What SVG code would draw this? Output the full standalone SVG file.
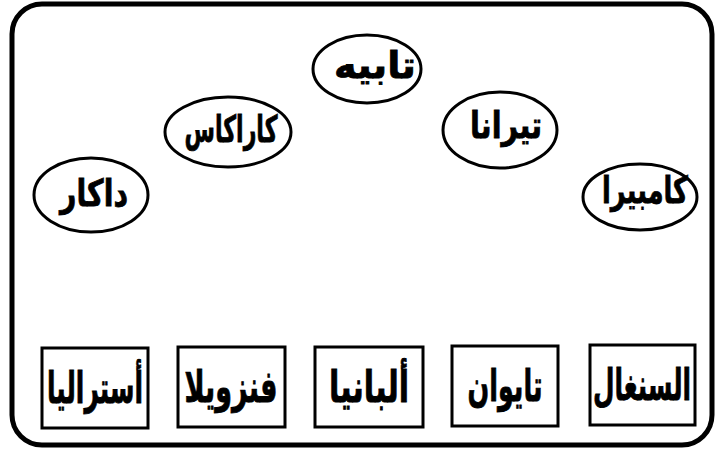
<svg xmlns="http://www.w3.org/2000/svg" width="716" height="450" viewBox="0 0 716 450">
<style>
.frame{fill:none;stroke:#000;stroke-width:5}
.ell{fill:#fff;stroke:#000;stroke-width:3}
.box{fill:#fff;stroke:#000;stroke-width:3}
.t{font-family:"DejaVu Sans",sans-serif;font-weight:bold;fill:#000;stroke:#000;stroke-width:0.6;text-anchor:middle}
.e{font-size:27px}
.b{font-size:30px}
</style>
<rect class="frame" x="12" y="4" width="700" height="441" rx="30" ry="30"/>
<g id="connectors"></g>
<g id="n-taibeh"><ellipse class="ell" cx="367" cy="69" rx="54" ry="34"/><text class="t e" transform="translate(375,78) scale(1,1.37)" textLength="82" lengthAdjust="spacingAndGlyphs">تابيه</text></g>
<g id="n-caracas"><ellipse class="ell" cx="228" cy="132" rx="63" ry="35"/><text class="t e" transform="translate(231,142) scale(1,1.37)" textLength="93" lengthAdjust="spacingAndGlyphs">كاراكاس</text></g>
<g id="n-dakar"><ellipse class="ell" cx="91" cy="195" rx="57" ry="37"/><text class="t e" transform="translate(94,206) scale(1,1.37)" textLength="68" lengthAdjust="spacingAndGlyphs">داكار</text></g>
<g id="n-tirana"><ellipse class="ell" cx="500" cy="130" rx="57" ry="38"/><text class="t e" transform="translate(506,138) scale(1,1.37)" textLength="72" lengthAdjust="spacingAndGlyphs">تيرانا</text></g>
<g id="n-canberra"><ellipse class="ell" cx="640" cy="197" rx="57" ry="33"/><text class="t e" transform="translate(645,203) scale(1,1.37)" textLength="86" lengthAdjust="spacingAndGlyphs">كامبيرا</text></g>
<g id="n-australia"><rect class="box" x="42" y="348" width="106" height="80"/><text class="t b" transform="translate(95,403) scale(1,1.47)" textLength="96" lengthAdjust="spacingAndGlyphs">أستراليا</text></g>
<g id="n-venezuela"><rect class="box" x="178" y="347" width="107" height="80"/><text class="t b" transform="translate(231,402) scale(1,1.47)" textLength="93" lengthAdjust="spacingAndGlyphs">فنزويلا</text></g>
<g id="n-albania"><rect class="box" x="315" y="347" width="108" height="80"/><text class="t b" transform="translate(369,402) scale(1,1.47)" textLength="80" lengthAdjust="spacingAndGlyphs">ألبانيا</text></g>
<g id="n-taiwan"><rect class="box" x="452" y="346" width="106" height="80"/><text class="t b" transform="translate(505,401) scale(1,1.47)" textLength="75" lengthAdjust="spacingAndGlyphs">تايوان</text></g>
<g id="n-senegal"><rect class="box" x="590" y="345" width="105" height="80"/><text class="t b" transform="translate(642,400) scale(1,1.47)" textLength="98" lengthAdjust="spacingAndGlyphs">السنغال</text></g>
</svg>
